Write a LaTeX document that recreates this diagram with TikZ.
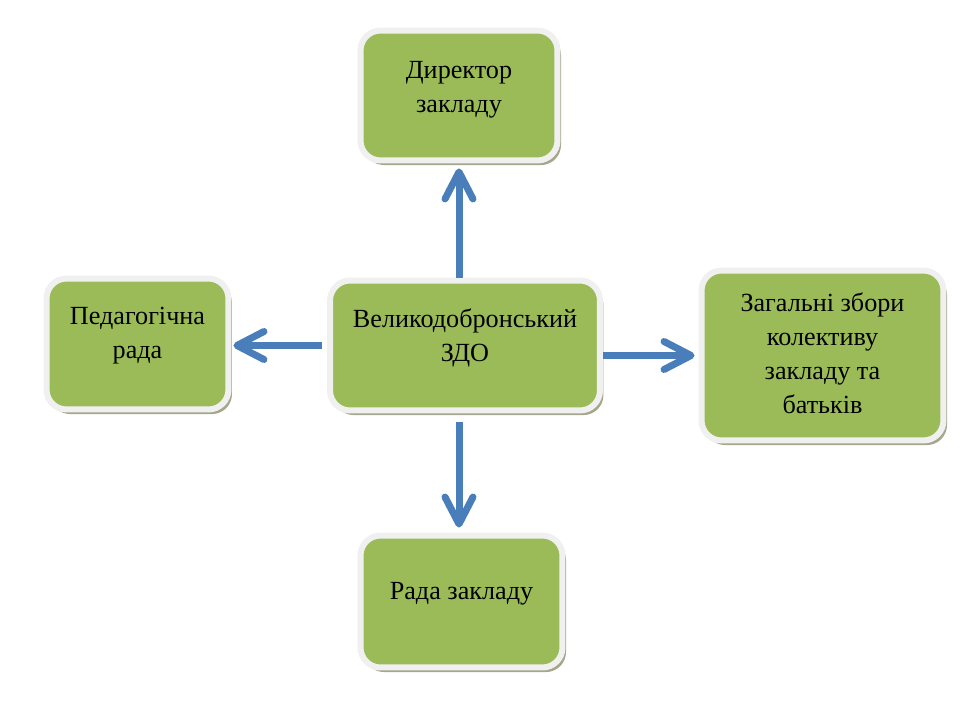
\documentclass[tikz,border=0pt]{standalone}
\usepackage{fontspec}
\setmainfont{Liberation Serif}
\usetikzlibrary{arrows.meta,shadows}
\definecolor{boxgreen}{HTML}{9BBB59}
\definecolor{boxrim}{HTML}{F0F0F0}
\definecolor{boxshade}{HTML}{A4A78C}
\definecolor{arrblue}{HTML}{4A7EBB}
\tikzset{
  unit/.style={draw=boxrim, line width=0.12cm, fill=boxgreen,
    rounded corners=0.4cm, inner sep=0pt,
    drop shadow={shadow xshift=2pt, shadow yshift=-2.6pt,
      fill=boxshade, opacity=1}},
  caption/.style={anchor=north, align=center, inner sep=0pt,
    font=\fontsize{14.9pt}{19.3pt}\selectfont},
  link/.style={draw=arrblue, line width=0.14cm,
    -{Straight Barb[length=0.54cm, width=0.56cm, round]}}
}
\begin{document}
\begin{tikzpicture}[x=0.02cm, y=-0.02cm]
\useasboundingbox (0,0) rectangle (977,702);
% boxes
\node[unit, minimum width=3.94cm, minimum height=2.6cm,
  label={[caption, yshift=-0.68cm]north:{Директор\\закладу}}]
  (dir) at (459,95.5) {};
\node[unit, minimum width=5.4cm, minimum height=2.6cm,
  label={[caption, yshift=-0.62cm]north:{Великодобронський\\ЗДО}}]
  (ctr) at (465,345.5) {};
\node[unit, minimum width=3.64cm, minimum height=2.62cm,
  label={[caption, yshift=-0.62cm]north:{Педагогічна\\рада}}]
  (ped) at (137.5,344) {};
\node[unit, minimum width=4.84cm, minimum height=3.4cm,
  label={[caption, yshift=-0.5cm]north:{Загальні збори\\колективу\\закладу та\\батьків}}]
  (zag) at (822.5,355.5) {};
\node[unit, minimum width=4.04cm, minimum height=2.64cm,
  label={[caption, yshift=-1cm]north:{Рада закладу}}]
  (rada) at (461.5,601.5) {};
% arrows
\draw[link, shorten >=0.1cm] (ctr.north -| dir.south) -- (dir.south);
\draw[link, shorten <=0.18cm, shorten >=0.1cm] (ctr.south -| dir.south) -- (rada.north -| dir.south);
\draw[link, shorten <=0.1cm, shorten >=0.04cm] (ctr.west) -- (ped.east |- ctr.west);
\draw[link, shorten >=0.08cm] (ctr.east |- zag.west) -- (zag.west);
\end{tikzpicture}
\end{document}
